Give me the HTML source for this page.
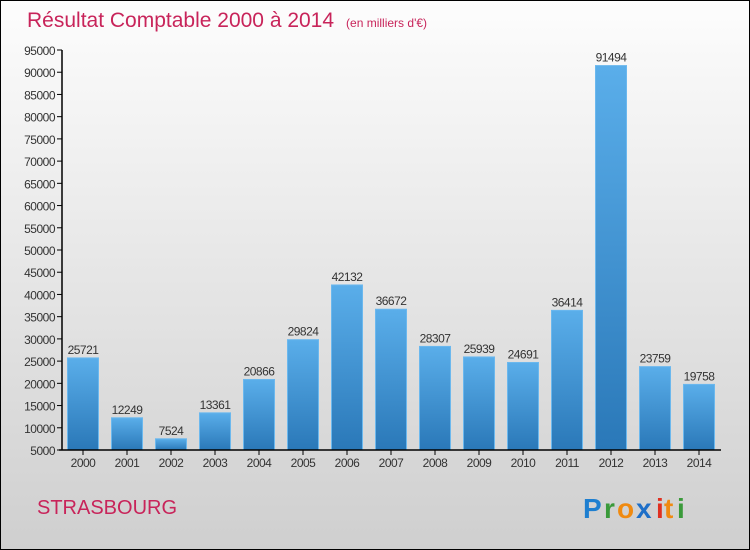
<!DOCTYPE html>
<html><head><meta charset="utf-8"><style>
body{margin:0}
#c{position:relative;width:748px;height:548px;border:1px solid #000;background:linear-gradient(#fdfdfd,#cfcfcf);font-family:"Liberation Sans",sans-serif;overflow:hidden}
</style></head><body>
<div id="c">
<svg id="s" width="748" height="548" xmlns="http://www.w3.org/2000/svg">
<defs><linearGradient id="g" x1="0" y1="0" x2="0" y2="1"><stop offset="0" stop-color="#5aaeea"/><stop offset="1" stop-color="#2a78b8"/></linearGradient></defs>
<text x="26" y="26" font-size="21" fill="#c8245a">Résultat Comptable 2000 à 2014<tspan font-size="12" dx="12">(en milliers d'€)</tspan></text>
<text x="36" y="513" font-size="20" fill="#c8245a">STRASBOURG</text>
<g font-size="28" font-weight="bold">
<text x="582" y="517" fill="#1e7fd0">P</text><text x="603" y="517" fill="#3a9a3a">r</text><text x="616" y="517" fill="#f08a10">o</text><text x="635" y="517" fill="#1e6fc8">x</text><text x="655" y="517" fill="#e03020">i</text><text x="663" y="517" fill="#f08a10">t</text><text x="676" y="517" fill="#3a9a3a">i</text></g>
</svg></div>
<script>
const years=["2000","2001","2002","2003","2004","2005","2006","2007","2008","2009","2010","2011","2012","2013","2014"];
const values=[25721,12249,7524,13361,20866,29824,42132,36672,28307,25939,24691,36414,91494,23759,19758];
const ticks=[5000,10000,15000,20000,25000,30000,35000,40000,45000,50000,55000,60000,65000,70000,75000,80000,85000,90000,95000];
const s=document.getElementById('s'),NS="http://www.w3.org/2000/svg";
const y=v=>449-(v-5000)/90000*400, x=i=>82+i*44;
function el(t,a,txt){const e=document.createElementNS(NS,t);for(const k in a)e.setAttribute(k,a[k]);if(txt!=null)e.textContent=txt;s.appendChild(e);return e;}
ticks.forEach(t=>{const e=el('text',{x:54,y:y(t)+5,'font-size':12,'text-anchor':'end',fill:'#333','letter-spacing':'-0.5'},t);


const l=el('line',{x1:56,x2:61,y1:y(t),y2:y(t),stroke:'#000'});

});
values.forEach((v,i)=>{const b=el('rect',{x:x(i)-15.5,y:y(v),width:31,height:y(5000)-y(v),fill:'url(#g)',stroke:'#6bb8ee','stroke-width':1});


const t=el('text',{x:x(i),y:y(v)-4,'font-size':12,'text-anchor':'middle',fill:'#333','letter-spacing':'-0.5'},v);


const yl=el('text',{x:x(i),y:466,'font-size':12,'text-anchor':'middle',fill:'#333','letter-spacing':'-0.5'},years[i]);


const tk=el('line',{x1:x(i),x2:x(i),y1:449,y2:454,stroke:'#000'});

});
const ya=el('line',{x1:61,x2:61,y1:y(95000),y2:449,stroke:'#000','stroke-width':1.5});


const xa=el('line',{x1:58,x2:720,y1:449,y2:449,stroke:'#000','stroke-width':1.5});


</script></body></html>
